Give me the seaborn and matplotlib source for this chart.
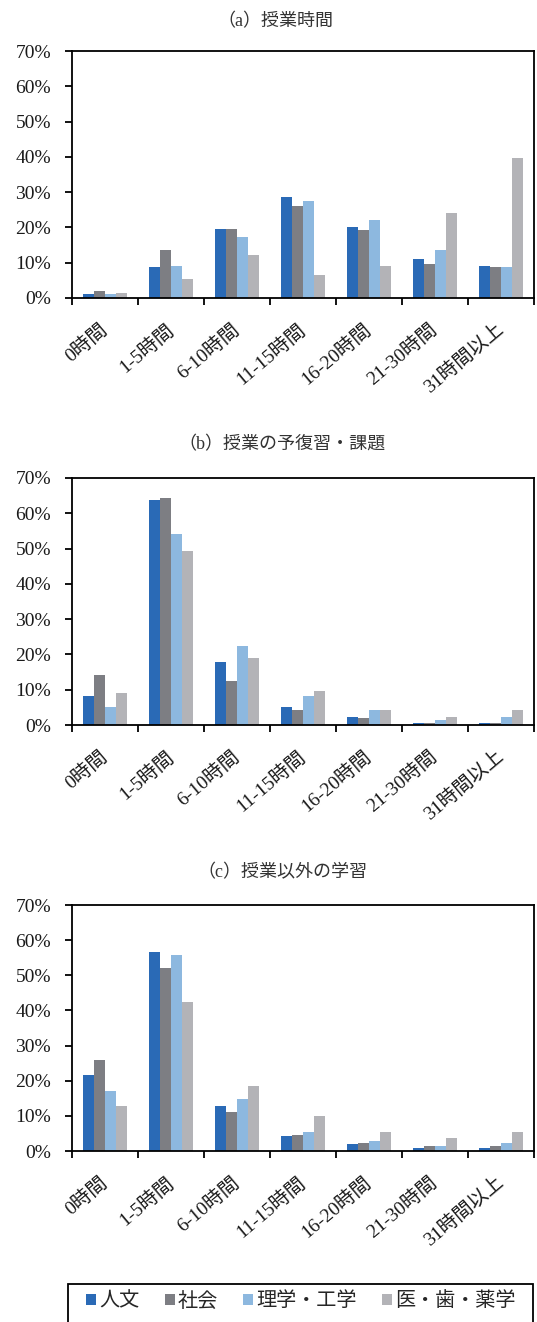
import matplotlib
matplotlib.use("Agg")
import matplotlib.pyplot as plt
from matplotlib.patches import Patch, Rectangle
from matplotlib.ticker import FixedLocator, PercentFormatter
import seaborn as sns
import pandas as pd

sns.set_theme(style="white")
plt.rcParams["font.family"] = ["Liberation Serif", "Noto Sans CJK JP", "DejaVu Sans"]

# Weekly hours categories and the four faculty groups
categories = ["0時間", "1-5時間", "6-10時間", "11-15時間", "16-20時間", "21-30時間", "31時間以上"]
groups = ["人文", "社会", "理学・工学", "医・歯・薬学"]
colors = ["#2A6AB6", "#7D7E83", "#8DB8DF", "#B3B3B7"]

# (a) 授業時間 (%)
class_jinbun = [1.0, 8.8, 19.6, 28.7, 20.1, 11.0, 9.2]
class_shakai = [1.9, 13.7, 19.6, 26.0, 19.3, 9.6, 8.8]
class_riko = [1.0, 9.2, 17.4, 27.4, 22.0, 13.7, 8.8]
class_ishiyaku = [1.5, 5.5, 12.3, 6.4, 9.2, 24.2, 39.6]

# (b) 授業の予復習・課題 (%)
prep_jinbun = [8.3, 63.9, 17.9, 5.1, 2.4, 0.5, 0.5]
prep_shakai = [14.2, 64.2, 12.5, 4.2, 1.9, 0.5, 0.5]
prep_riko = [5.1, 54.2, 22.5, 8.3, 4.2, 1.4, 2.4]
prep_ishiyaku = [9.2, 49.2, 18.9, 9.7, 4.2, 2.4, 4.2]

# (c) 授業以外の学習 (%)
self_jinbun = [21.7, 56.6, 12.9, 4.2, 1.9, 0.9, 0.9]
self_shakai = [25.9, 52.0, 11.1, 4.6, 2.4, 1.4, 1.4]
self_riko = [17.0, 55.7, 14.8, 5.5, 2.8, 1.4, 2.4]
self_ishiyaku = [12.9, 42.4, 18.5, 10.1, 5.5, 3.7, 5.5]

panels = [
    ("（a）授業時間", [class_jinbun, class_shakai, class_riko, class_ishiyaku]),
    ("（b）授業の予復習・課題", [prep_jinbun, prep_shakai, prep_riko, prep_ishiyaku]),
    ("（c）授業以外の学習", [self_jinbun, self_shakai, self_riko, self_ishiyaku]),
]

W, H = 537, 1322
fig = plt.figure(figsize=(W / 100, H / 100), dpi=100)

# pixel boxes: (left, top, right, bottom) of each plot area, title centre (x, y)
boxes = [(72, 51, 534, 298), (72, 478, 534, 725), (72, 905, 534, 1151)]
titles_xy = [(275, 22), (282, 445), (282, 873)]

for (title, series), (l, t, r, b), (tx, ty) in zip(panels, boxes, titles_xy):
    ax = fig.add_axes([l / W, 1 - b / H, (r - l) / W, (b - t) / H])
    rows = []
    for g, vals in zip(groups, series):
        for c, v in zip(categories, vals):
            rows.append({"cat": c, "group": g, "val": v})
    df = pd.DataFrame(rows)
    sns.barplot(data=df, x="cat", y="val", hue="group", order=categories,
                hue_order=groups, palette=colors, width=0.66, gap=0,
                saturation=1, legend=False, ax=ax, linewidth=0)
    ax.set_xlim(-0.5, len(categories) - 0.5)
    ax.set_ylim(0, 70)
    ax.set_xlabel("")
    ax.set_ylabel("")
    ax.yaxis.set_major_locator(FixedLocator(range(0, 71, 10)))
    ax.yaxis.set_major_formatter(PercentFormatter(decimals=0))
    for s in ax.spines.values():
        s.set_visible(True)
        s.set_color("black")
        s.set_linewidth(1.3)
    ax.tick_params(axis="y", which="major", left=True, length=5, width=1.3,
                   color="black", labelsize=14, pad=10, labelcolor="#1a1a1a")
    for lab in ax.get_yticklabels():
        lab.set_fontfamily(["Liberation Serif"])
    # category labels sit between boundary tick marks
    ax.xaxis.set_minor_locator(FixedLocator([i - 0.5 for i in range(len(categories) + 1)]))
    ax.tick_params(axis="x", which="minor", bottom=True, length=5, width=1.3, color="black")
    ax.tick_params(axis="x", which="major", bottom=False, length=0, pad=21,
                   labelsize=14, labelcolor="#1a1a1a")
    for lab in ax.get_xticklabels():
        lab.set_rotation(40)
        lab.set_ha("right")
        lab.set_va("center")
        lab.set_rotation_mode("anchor")
    fig.text(tx / W, 1 - ty / H, title, ha="center", va="center",
             fontsize=13, color="#333333")

# legend: a frame along the bottom edge with the entries centred inside it
fig.patches.append(Rectangle((68 / W, -0.01), 465 / W, 0.01 + 1 - 1284 / H,
                             transform=fig.transFigure, fill=False,
                             edgecolor="black", linewidth=1.3))
handles = [Patch(facecolor=c, edgecolor="none", label=g) for g, c in zip(groups, colors)]
fig.legend(handles=handles, loc="center", ncol=4,
           bbox_to_anchor=(301 / W, 1 - 1302 / H), frameon=False, fontsize=14.5,
           handlelength=0.5, handleheight=0.5, handletextpad=0.15,
           columnspacing=1.25, borderpad=0, borderaxespad=0)

fig.savefig("out.png", dpi=100)
